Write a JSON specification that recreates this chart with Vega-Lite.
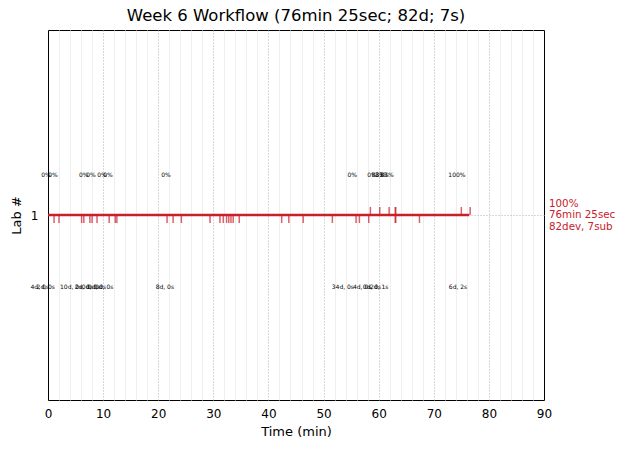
{
  "$schema": "https://vega.github.io/schema/vega-lite/v6.json",
  "width": 496,
  "height": 370,
  "autosize": "none",
  "padding": {"left": 48, "top": 30, "right": 86, "bottom": 53},
  "title": {"text": "Week 6 Workflow (76min 25sec; 82d; 7s)", "fontSize": 16.5, "fontWeight": "normal", "font": "DejaVu Sans", "offset": 6, "color": "black"},
  "config": {
    "font": "DejaVu Sans",
    "view": {"stroke": "black", "strokeWidth": 1},
    "axis": {"labelFont": "DejaVu Sans", "titleFont": "DejaVu Sans", "labelColor": "black", "titleColor": "black", "titleFontWeight": "normal", "labelFontSize": 12, "titleFontSize": 13, "domain": false, "ticks": false, "labelFlush": false}
  },
  "datasets": {
    "line": [{"lab": 1, "start": 0, "end": 76.42}],
    "dev": [
      {"t": 1.1}, {"t": 2.0}, {"t": 6.1}, {"t": 6.5}, {"t": 7.6}, {"t": 8.0}, {"t": 8.9}, {"t": 11.1}, {"t": 12.2}, {"t": 12.5},
      {"t": 21.6}, {"t": 22.7}, {"t": 24.2}, {"t": 29.4}, {"t": 31.2}, {"t": 31.8}, {"t": 32.4}, {"t": 32.8}, {"t": 33.2}, {"t": 33.6},
      {"t": 34.7}, {"t": 42.4}, {"t": 43.7}, {"t": 46.3}, {"t": 51.6}, {"t": 55.9}, {"t": 56.5}, {"t": 58.2}, {"t": 63.0}, {"t": 63.1}, {"t": 67.4}
    ],
    "sub": [{"t": 58.5}, {"t": 60.2}, {"t": 61.9}, {"t": 63.0}, {"t": 63.1}, {"t": 75.0}, {"t": 76.6}],
    "top": [
      {"t": -0.35, "label": "0%"}, {"t": 0.9, "label": "0%"}, {"t": 6.5, "label": "0%"}, {"t": 7.8, "label": "0%"},
      {"t": 9.8, "label": "0%"}, {"t": 10.9, "label": "0%"}, {"t": 21.4, "label": "0%"}, {"t": 55.2, "label": "0%"},
      {"t": 58.8, "label": "0%"}, {"t": 59.9, "label": "83%"}, {"t": 60.6, "label": "83%"}, {"t": 61.5, "label": "83%"},
      {"t": 74.2, "label": "100%"}
    ],
    "bottom": [
      {"t": -1.5, "label": "4d, 0s"}, {"t": -0.4, "label": "2d, 0s"}, {"t": 4.2, "label": "10d, 0s"}, {"t": 6.5, "label": "2d, 0s"},
      {"t": 7.8, "label": "0d, 0s"}, {"t": 8.9, "label": "0d, 0s"}, {"t": 10.2, "label": "0d, 0s"}, {"t": 21.2, "label": "8d, 0s"},
      {"t": 53.5, "label": "34d, 0s"}, {"t": 57.0, "label": "4d, 0s"}, {"t": 58.8, "label": "0d, 0s"}, {"t": 60.1, "label": "2d, 1s"},
      {"t": 74.4, "label": "6d, 2s"}
    ],
    "note": [{"t": 90, "lab": 1, "label": "100%\n76min 25sec\n82dev, 7sub"}]
  },
  "layer": [
    {
      "data": {"name": "line"},
      "mark": {"type": "rule", "color": "#c8202a", "strokeWidth": 2.5},
      "encoding": {
        "x": {"field": "start", "type": "quantitative", "scale": {"domain": [0, 90], "nice": false},
              "axis": {"orient": "bottom", "values": [0,10,20,30,40,50,60,70,80,90], "title": "Time (min)", "grid": true, "gridColor": "#b0b0b0", "gridDash": [1, 2], "gridWidth": 1,
                       "gridOpacity": {"condition": {"test": "datum.value == 0 || datum.value == 90", "value": 0}, "value": 1},
                       "labelPadding": 8, "titlePadding": 6}},
        "x2": {"field": "end"},
        "y": {"field": "lab", "type": "quantitative", "scale": {"domain": [0, 2], "nice": false},
              "axis": {"values": [1], "format": "d", "title": "Lab #", "grid": true, "gridColor": "#b0b0b0", "gridDash": [1, 2], "labelPadding": 10, "titlePadding": 7}}
      }
    },
    {
      "data": {"name": "dev"},
      "mark": {"type": "tick", "orient": "vertical", "color": "#c8202a", "size": 8, "thickness": 1.5, "yOffset": 4},
      "encoding": {
        "x": {"field": "t", "type": "quantitative",
              "axis": {"orient": "top", "values": [2,4,6,8,12,14,16,18,22,24,26,28,32,34,36,38,42,44,46,48,52,54,56,58,62,64,66,68,72,74,76,78,82,84,86,88], "grid": true, "gridColor": "#efefef", "gridWidth": 1, "labels": false, "ticks": false, "domain": false, "title": null}},
        "y": {"datum": 1}
      }
    },
    {
      "data": {"name": "sub"},
      "mark": {"type": "tick", "orient": "vertical", "color": "#c8202a", "size": 8, "thickness": 1.5, "yOffset": -4},
      "encoding": {
        "x": {"field": "t", "type": "quantitative", "axis": null},
        "y": {"datum": 1}
      }
    },
    {
      "data": {"name": "top"},
      "mark": {"type": "text", "fontSize": 6, "color": "black", "align": "center", "baseline": "middle"},
      "encoding": {
        "x": {"field": "t", "type": "quantitative", "axis": null},
        "y": {"datum": 1.216},
        "text": {"field": "label"}
      }
    },
    {
      "data": {"name": "bottom"},
      "mark": {"type": "text", "fontSize": 6, "color": "black", "align": "center", "baseline": "middle"},
      "encoding": {
        "x": {"field": "t", "type": "quantitative", "axis": null},
        "y": {"datum": 0.61},
        "text": {"field": "label"}
      }
    },
    {
      "data": {"name": "note"},
      "mark": {"type": "text", "fontSize": 10.3, "color": "#c8202a", "align": "left", "baseline": "middle", "dx": 5, "dy": -11.5, "lineBreak": "\n", "lineHeight": 11.5},
      "encoding": {
        "x": {"field": "t", "type": "quantitative", "axis": null},
        "y": {"field": "lab", "type": "quantitative"},
        "text": {"field": "label"}
      }
    }
  ],
  "resolve": {"axis": {"x": "independent"}}
}
